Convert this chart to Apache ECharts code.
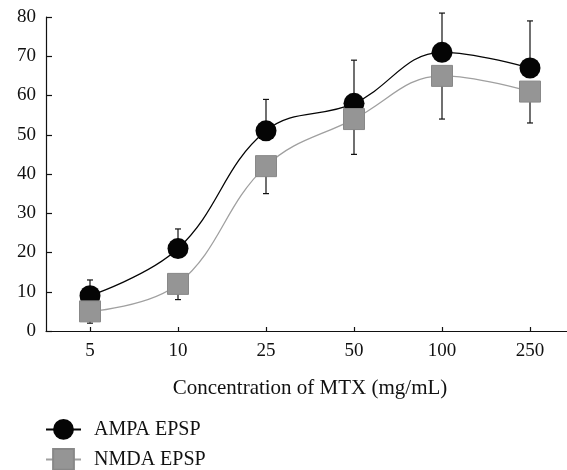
<!DOCTYPE html>
<html>
<head>
<meta charset="utf-8">
<script src="https://cdn.jsdelivr.net/npm/echarts@6/dist/echarts.min.js"></script>
<style>html,body{margin:0;padding:0;background:#fff;overflow:hidden;width:567px;height:470px}#c{width:574px;height:470px}</style>
</head>
<body>
<div id="c"></div>
<script>
var categories = ['5', '10', '25', '50', '100', '250'];
var ampaValues = [9, 21, 51, 58, 71, 67];
var ampaUpper = [13, 26, 59, 69, 81, 79];
var nmdaValues = [5, 12, 42, 54, 65, 61];
var nmdaLower = [2, 8, 35, 45, 54, 53];
var yTicks = [0, 10, 20, 30, 40, 50, 60, 70, 80];

var FONT = '"Liberation Serif", "DejaVu Serif", serif';
var chart = echarts.init(document.getElementById('c'), null, {renderer: 'canvas'});

function errorSeries(name, baseArr, endArr, z) {
  return {
    type: 'custom',
    name: name,
    z: z,
    silent: true,
    data: categories.map(function (c, i) { return [i, baseArr[i], endArr[i]]; }),
    renderItem: function (params, api) {
      var p0 = api.coord([api.value(0), api.value(1)]);
      var p1 = api.coord([api.value(0), api.value(2)]);
      var hw = 3;
      var st = {stroke: '#111', lineWidth: 1.2};
      return {
        type: 'group',
        children: [
          {type: 'line', shape: {x1: p0[0], y1: p0[1], x2: p1[0], y2: p1[1]}, style: st},
          {type: 'line', shape: {x1: p1[0] - hw, y1: p1[1], x2: p1[0] + hw, y2: p1[1]}, style: st}
        ]
      };
    }
  };
}

function legendFor(name, top) {
  return {
    orient: 'vertical',
    left: 45,
    top: top,
    padding: 0,
    itemWidth: 35,
    itemHeight: 26,
    textStyle: {fontFamily: FONT, fontSize: 20, color: '#111', padding: [0, 0, 0, 8]},
    data: [name]
  };
}

chart.setOption({
  animation: false,
  backgroundColor: '#fff',
  grid: {left: 46, right: 0, top: 17, bottom: 139, containLabel: false},
  legend: [legendFor('AMPA EPSP', 419), legendFor('NMDA EPSP', 448)],
  xAxis: {
    type: 'category',
    data: categories,
    boundaryGap: true,
    name: 'Concentration of MTX (mg/mL)',
    nameLocation: 'middle',
    nameGap: 47,
    nameTextStyle: {fontFamily: FONT, fontSize: 21, color: '#111'},
    axisLine: {lineStyle: {color: '#111', width: 1.2}},
    axisTick: {show: true, alignWithLabel: true, inside: true, length: 4, lineStyle: {color: '#111', width: 1.2}},
    axisLabel: {fontFamily: FONT, fontSize: 19, color: '#111', margin: 11},
    splitLine: {show: false}
  },
  yAxis: {
    type: 'value',
    min: yTicks[0],
    max: yTicks[yTicks.length - 1],
    interval: 10,
    axisLine: {show: true, lineStyle: {color: '#111', width: 1.2}},
    axisTick: {show: true, inside: true, length: 6, lineStyle: {color: '#111', width: 1.2}},
    axisLabel: {fontFamily: FONT, fontSize: 19, color: '#111', margin: 10},
    splitLine: {show: false}
  },
  series: [
    errorSeries('ampaErr', ampaValues, ampaUpper, 1),
    errorSeries('nmdaErr', nmdaValues, nmdaLower, 1),
    {
      name: 'AMPA EPSP',
      type: 'line',
      data: ampaValues,
      smooth: 0.4,
      z: 3,
      symbol: 'circle',
      symbolSize: 21,
      itemStyle: {color: '#050505'},
      lineStyle: {color: '#050505', width: 1.3}
    },
    {
      name: 'NMDA EPSP',
      type: 'line',
      data: nmdaValues,
      smooth: 0.4,
      z: 4,
      symbol: 'rect',
      symbolSize: 21,
      itemStyle: {color: '#959595', borderColor: '#888', borderWidth: 1},
      lineStyle: {color: '#a0a0a0', width: 1.3}
    }
  ]
});
</script>
</body>
</html>
